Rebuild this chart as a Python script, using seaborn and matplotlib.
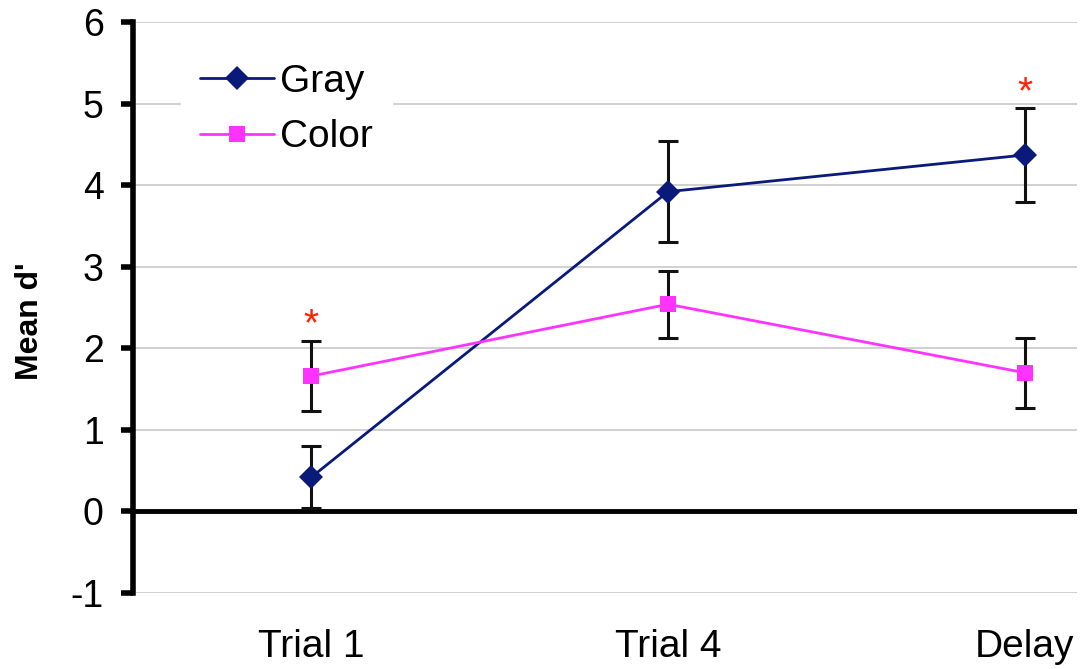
import numpy as np
import pandas as pd
import seaborn as sns
import matplotlib.pyplot as plt

trials = ["Trial 1", "Trial 4", "Delay"]
gray_mean = [0.42, 3.92, 4.37]
gray_err = [0.38, 0.62, 0.58]
color_mean = [1.66, 2.54, 1.70]
color_err = [0.43, 0.41, 0.43]
star_trials = ["Trial 1", "Delay"]
star_y = [2.28, 5.12]

sns.set_theme(style="white")
plt.rcParams["font.family"] = ["Liberation Sans", "DejaVu Sans"]
plt.rcParams["axes.unicode_minus"] = False
for k in ["text.color", "axes.labelcolor", "xtick.color", "ytick.color"]:
    plt.rcParams[k] = "black"

df = pd.DataFrame({
    "trial": trials * 2,
    "mean": gray_mean + color_mean,
    "err": gray_err + color_err,
    "group": ["Gray"] * 3 + ["Color"] * 3,
})

fig = plt.figure(figsize=(10.84, 6.69), dpi=100)
ax = fig.add_axes([0.1227, 0.1136, 0.8708, 0.8535])

# error bars first so the markers sit on top
pos = {t: i for i, t in enumerate(trials)}
for g in ["Gray", "Color"]:
    d = df[df.group == g]
    ax.errorbar(d.trial.map(pos), d["mean"], yerr=d["err"], fmt="none",
                ecolor="#111111", elinewidth=2.2, capsize=7, capthick=2.2, zorder=3)

sns.lineplot(data=df, x="trial", y="mean", hue="group", style="group",
             palette={"Gray": "#0a1a7a", "Color": "#ff33ff"},
             markers={"Gray": "D", "Color": "s"}, dashes=False,
             markersize=12, linewidth=2, markeredgewidth=0, ax=ax, zorder=4)

for t, y in zip(star_trials, star_y):
    ax.text(pos[t], y, "*", color="#ff2200", ha="center", va="center",
            fontsize=28, zorder=5)

ax.set_ylim(-1, 6)
ax.set_xlim(-0.5, 2.146)
ax.set_yticks(range(-1, 7))
ax.grid(axis="y", color="#c8c8c8", linewidth=1.2)
ax.set_axisbelow(True)
ax.axhline(0, color="black", linewidth=3.5, zorder=2)

for s in ["top", "right", "bottom"]:
    ax.spines[s].set_visible(False)
ax.spines["left"].set_color("black")
ax.spines["left"].set_linewidth(4)
ax.tick_params(axis="y", which="major", direction="out", length=9, width=4,
               color="black", labelsize=27, pad=12, left=True)
ax.tick_params(axis="x", length=0, labelsize=28, pad=26)

ax.set_xlabel("")
ax.set_ylabel("Mean d'", fontsize=23, fontweight="bold")
ax.yaxis.set_label_coords(-0.093, 0.476)

leg = ax.legend(loc="upper left", bbox_to_anchor=(0.03, 0.995), fontsize=28,
                frameon=True, fancybox=False, handlelength=1.9,
                handletextpad=0.15, labelspacing=0.5, borderpad=0.5)
leg.get_frame().set_edgecolor("white")
leg.get_frame().set_facecolor("white")
leg.get_frame().set_alpha(1)

fig.savefig("out.png", dpi=100)
